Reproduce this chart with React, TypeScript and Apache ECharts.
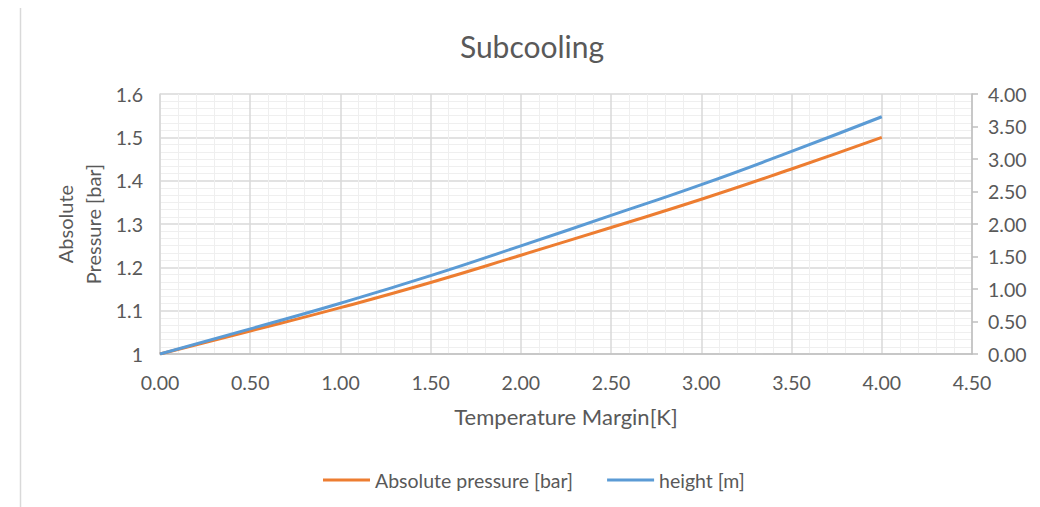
import React, { useEffect, useRef } from "react";
import * as echarts from "echarts";

const temperatureMargin = [0, 0.5, 1.0, 1.5, 2.0, 2.5, 3.0, 3.5, 4.0];
const absolutePressure = [1.0, 1.053, 1.107, 1.165, 1.228, 1.292, 1.357, 1.427, 1.5];
const heightM = [0, 0.387, 0.781, 1.205, 1.664, 2.132, 2.606, 3.117, 3.65];

const FONT = "Lato";
const TEXT = "#595959";

export default function App() {
  const ref = useRef<HTMLDivElement>(null);
  useEffect(() => {
    if (!ref.current) return;
    const chart = echarts.init(ref.current, undefined, { renderer: "svg" });
    const minorLine = { show: true, lineStyle: { color: "#efefef", width: 1 } };
    chart.setOption({
      animation: false,
      textStyle: { fontFamily: FONT, color: TEXT },
      grid: { left: 152, right: 68, top: 86, bottom: 153 },
      legend: {
        left: 310,
        top: 457,
        icon: "rect",
        itemWidth: 47,
        itemHeight: 3,
        itemGap: 34,
        textStyle: { fontFamily: FONT, fontSize: 19.5, color: TEXT },
        data: ["Absolute pressure [bar]", "height [m]"],
      },
      graphic: [
        {
          type: "rect",
          shape: { x: 12.5, y: -2.5, width: 1100, height: 600 },
          style: { fill: "none", stroke: "#d9d9d9", lineWidth: 1.5 },
          silent: true,
        },
        {
          type: "text",
          x: 524,
          y: 38,
          style: {
            text: "Subcooling",
            fontFamily: FONT,
            fontSize: 30,
            fill: TEXT,
            align: "center",
            verticalAlign: "middle",
          },
        },
        {
          type: "text",
          x: 558,
          y: 408,
          style: {
            text: "Temperature Margin[K]",
            fontFamily: FONT,
            fontSize: 22,
            fill: TEXT,
            align: "center",
            verticalAlign: "middle",
          },
        },
        {
          type: "text",
          x: 57,
          y: 216,
          rotation: Math.PI / 2,
          style: {
            text: "Absolute",
            fontFamily: FONT,
            fontSize: 20,
            fill: TEXT,
            align: "center",
            verticalAlign: "middle",
          },
        },
        {
          type: "text",
          x: 85,
          y: 216,
          rotation: Math.PI / 2,
          style: {
            text: "Pressure [bar]",
            fontFamily: FONT,
            fontSize: 20,
            fill: TEXT,
            align: "center",
            verticalAlign: "middle",
          },
        },
      ],
      xAxis: {
        type: "value",
        min: 0,
        max: 4.5,
        interval: 0.5,
        axisLine: { show: true, onZero: false, lineStyle: { color: "#bfbfbf", width: 1.5 } },
        axisTick: { show: false },
        axisLabel: {
          fontFamily: FONT,
          fontSize: 19.5,
          color: TEXT,
          margin: 18,
          formatter: (v: number) => v.toFixed(2),
        },
        splitLine: { show: true, lineStyle: { color: "#d9d9d9", width: 1.5 } },
        minorTick: { show: false, splitNumber: 5 },
        minorSplitLine: minorLine,
      },
      yAxis: [
        {
          type: "value",
          min: 1,
          max: 1.6,
          interval: 0.1,
          axisLine: { show: true, lineStyle: { color: "#d9d9d9", width: 1.5 } },
          axisTick: { show: false },
          axisLabel: {
            fontFamily: FONT,
            fontSize: 19.5,
            color: TEXT,
            margin: 17,
            formatter: (v: number) => {
              const s = v.toFixed(1);
              return s === "1.0" ? "1" : s;
            },
          },
          splitLine: { show: true, lineStyle: { color: "#d9d9d9", width: 1.5 } },
          minorTick: { show: false, splitNumber: 6 },
          minorSplitLine: minorLine,
        },
        {
          type: "value",
          min: 0,
          max: 4,
          interval: 0.5,
          position: "right",
          axisLine: { show: true, lineStyle: { color: "#bfbfbf", width: 1.5 } },
          axisTick: { show: true, length: 6, lineStyle: { color: "#bfbfbf", width: 1.5 } },
          axisLabel: {
            fontFamily: FONT,
            fontSize: 19.5,
            color: TEXT,
            margin: 16,
            formatter: (v: number) => v.toFixed(2),
          },
          splitLine: { show: false },
        },
      ],
      series: [
        {
          name: "Absolute pressure [bar]",
          type: "line",
          yAxisIndex: 0,
          data: temperatureMargin.map((t, i) => [t, absolutePressure[i]]),
          smooth: true,
          showSymbol: false,
          symbol: "none",
          lineStyle: { color: "#ED7D31", width: 3 },
          itemStyle: { color: "#ED7D31" },
        },
        {
          name: "height [m]",
          type: "line",
          yAxisIndex: 1,
          data: temperatureMargin.map((t, i) => [t, heightM[i]]),
          smooth: true,
          showSymbol: false,
          symbol: "none",
          lineStyle: { color: "#5B9BD5", width: 3 },
          itemStyle: { color: "#5B9BD5" },
        },
      ],
    });
    return () => chart.dispose();
  }, []);
  return <div ref={ref} style={{ width: 1032, height: 499 }} />;
}
